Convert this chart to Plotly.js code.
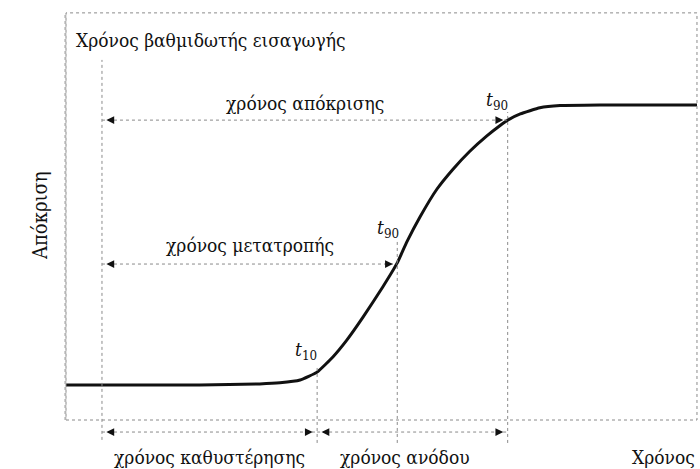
<!DOCTYPE html>
<html>
<head>
<meta charset="utf-8">
<script src="https://cdn.plot.ly/plotly-3.0.1.min.js"></script>
<style>html,body{margin:0;padding:0;background:#fff}#chart{width:700px;height:469px}</style>
</head>
<body>
<div id="chart"></div>
<script>
// Response curve (time in arbitrary units 0..100, response normalised 0..1)
const timeVals = [0, 21.2, 30.7, 33.9, 37.1, 39.8, 42.3, 44.5, 47.1, 50.2, 52.5, 54.0, 56.1, 58.8, 61.3, 64.0, 66.7, 68.8, 70.0, 72.0, 75.1, 78.3, 84.6, 100];
const responseVals = [0, 0, 0.004, 0.008, 0.018, 0.046, 0.10, 0.16, 0.243, 0.35, 0.436, 0.51, 0.60, 0.70, 0.77, 0.835, 0.89, 0.927, 0.946, 0.968, 0.99, 0.998, 1, 1];

// Characteristic times
const tStep = 5.7;
const t10 = 39.8;
const tMid = 52.5;
const t90 = 70.0;

// Response levels of the interval arrows
const levelResponseArrow = 0.946;
const levelConversionArrow = 0.432;
const levelBottomArrow = -0.168;

// Labels
const titleText = 'Χρόνος βαθμιδωτής εισαγωγής';
const xTitle = 'Χρόνος';
const yTitle = 'Απόκριση';
const labelResponse = 'χρόνος απόκρισης';
const labelConversion = 'χρόνος μετατροπής';
const labelDelay = 'χρόνος καθυστέρησης';
const labelRise = 'χρόνος ανόδου';

const FONT = '"DejaVu Serif Condensed", "DejaVu Serif", serif';
const GRAY = '#8a8a8a';

const trace = {
  x: timeVals, y: responseVals, type: 'scatter', mode: 'lines',
  line: {color: '#111', width: 3, shape: 'spline', smoothing: 0.4},
  hoverinfo: 'skip'
};

function hline(x0, x1, y) {
  return {type: 'line', xref: 'x', yref: 'y', x0: x0, x1: x1, y0: y, y1: y,
          line: {color: GRAY, width: 1, dash: 'dot'}};
}
function vline(x, y0, y1) {
  return {type: 'line', xref: 'x', yref: 'y', x0: x, x1: x, y0: y0, y1: y1,
          line: {color: GRAY, width: 1, dash: 'dot'}};
}

const shapes = [
  {type: 'rect', xref: 'x', yref: 'y', x0: 0, x1: 100, y0: -0.125, y1: 1.329,
   line: {color: GRAY, width: 1, dash: 'dot'}},
  {type: 'line', xref: 'x', yref: 'y', x0: -0.1, x1: -0.1, y0: -0.125, y1: 1.329,
   line: {color: '#b5b5b5', width: 2, dash: 'dot'}},
  vline(tStep, -0.196, 1.161),
  vline(t10, -0.207, 0.071),
  vline(tMid, -0.207, 0.518),
  vline(t90, -0.207, 0.975),
  hline(tStep, t90, levelResponseArrow),
  hline(tStep, tMid, levelConversionArrow),
  hline(tStep, t10, levelBottomArrow),
  hline(t10, t90, levelBottomArrow)
];

function head(x, y, dir) {
  // small solid arrowhead at (x,y) pointing left (dir=-1) or right (dir=1)
  return {x: x, y: y, xref: 'x', yref: 'y', text: '', showarrow: true,
          ax: -dir * 7, ay: 0, arrowhead: 2, arrowsize: 1.2, arrowwidth: 1.3,
          arrowcolor: '#111'};
}
const gap = 0.7;
const annotations = [
  head(tStep + gap, levelResponseArrow, -1),
  head(t90 - gap, levelResponseArrow, 1),
  head(tStep + gap, levelConversionArrow, -1),
  head(tMid - gap, levelConversionArrow, 1),
  head(tStep + gap, levelBottomArrow, -1),
  head(t10 - gap, levelBottomArrow, 1),
  head(t10 + gap, levelBottomArrow, -1),
  head(t90 - gap, levelBottomArrow, 1)
];

function txt(text, px, py, size, anchor, extra) {
  return Object.assign({text: text, xref: 'paper', yref: 'paper',
    x: px / 700, y: 1 - py / 469, xanchor: anchor || 'center', yanchor: 'middle',
    showarrow: false, font: {family: FONT, size: size || 19, color: '#111'}}, extra || {});
}
annotations.push(
  txt(titleText, 74, 40, 19, 'left'),
  txt(labelResponse, 305, 103),
  txt(labelConversion, 250, 245),
  txt('<i>t</i><sub>90</sub>', 497, 100, 19),
  txt('<i>t</i><sub>90</sub>', 388, 228, 19),
  txt('<i>t</i><sub>10</sub>', 306, 350, 19),
  txt(labelDelay, 209, 457),
  txt(labelRise, 405, 457),
  txt(xTitle, 697, 457, 19, 'right'),
  txt(yTitle, 40, 216, 20, 'center', {textangle: -90})
);

const layout = {
  width: 700, height: 469,
  margin: {l: 0, r: 0, t: 0, b: 0},
  paper_bgcolor: '#fff', plot_bgcolor: '#fff',
  font: {family: FONT},
  showlegend: false,
  xaxis: {range: [-10.46, 100.48], visible: false, fixedrange: true},
  yaxis: {range: [-0.3, 1.375], visible: false, fixedrange: true},
  shapes: shapes,
  annotations: annotations
};

Plotly.newPlot('chart', [trace], layout, {staticPlot: true, displayModeBar: false});
</script>
</body>
</html>
